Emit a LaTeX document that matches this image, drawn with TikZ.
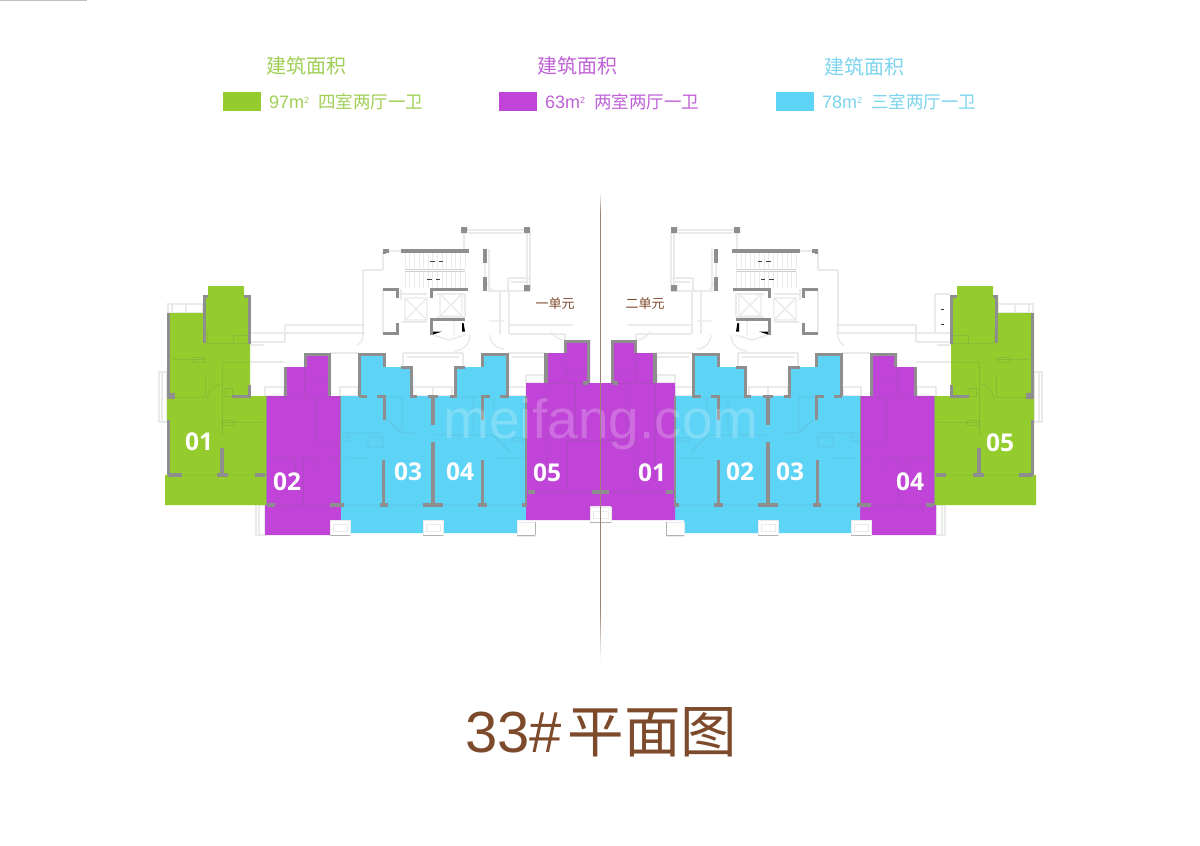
\documentclass[tikz,border=0pt]{standalone}
\usepackage{fontspec}
\setmainfont{Liberation Sans}
\newfontfamily\cjk{Noto Sans CJK SC}
\newfontfamily\lab{Open Sans}
\definecolor{gr}{HTML}{93CC2C}
\definecolor{pu}{HTML}{C044D8}
\definecolor{bl}{HTML}{5DD3F5}
\definecolor{wallc}{HTML}{8E8E8E}
\definecolor{planc}{HTML}{EAEAEA}
\definecolor{brownt}{HTML}{7E4A2C}
\definecolor{linec}{HTML}{9A8376}
\definecolor{grt}{HTML}{A0CF55}
\definecolor{put}{HTML}{BF62D6}
\definecolor{blt}{HTML}{7CD4EE}
\tikzset{
  wallln/.style={draw=wallc,line width=3.2pt},
  wallthin/.style={draw=wallc,line width=1.8pt},
  planln/.style={draw=planc,line width=1.4pt},
  inner/.style={draw=black!60,draw opacity=.16,line width=.8pt},
  balc/.style={fill=white,draw=planc,line width=.9pt},
  legendh/.style={font=\cjk\fontsize{20}{22}\selectfont},
  legendt/.style={anchor=west,font=\fontsize{18}{20}\selectfont},
  unitl/.style={text=white,font=\lab\bfseries\fontsize{24.5}{28}\selectfont},
  unitn/.style={text=brownt,font=\cjk\fontsize{13}{15}\selectfont},
}
\newcommand\halfplan{%
  % light plan lines, core and corridors
  \draw[planln] (464,230)--(527,230) (468,233)--(523,233) (527,230)--(527,288) (530,233)--(530,290) (464,230)--(464,250);
  \draw[planln] (508,278)--(530,278) (508,278)--(508,291) (511,282)--(527,282) (488,291)--(530,291);
  \draw[planln] (363,270)--(383,270) (363,270)--(363,335) (383,251)--(383,270) (485,263)--(485,277) (489,249)--(489,291);
  \draw[planln] (383,289)--(383,333) (401,289)--(401,300) (402,294)--(427,294) (402,322)--(427,322);
  \draw[planln] (465,294)--(465,317) (437,294)--(465,294) (437,317)--(465,317);
  \draw[planln] (405,298) rectangle (427,320) (405,298)--(427,320) (427,298)--(405,320);
  \draw[planln] (440,294) rectangle (462,316) (440,294)--(462,316) (462,294)--(440,316);
  \draw[planln] (500,292)--(500,334) (509,292)--(509,334) (510,334)--(565,334) (510,325)--(573,325) (565,334)--(565,340);
  \draw[planln] (285,325)--(365,325) (285,333)--(365,333) (285,325)--(285,333) (250,333)--(285,333) (250,342)--(285,342) (285,333)--(285,342);
  \draw[planln] (403,353)--(463,353) (403,353)--(403,367) (463,353)--(463,367) (407,357)--(459,357);
  \draw[planln] (250,362)--(285,362) (330,353)--(359,353) (508,353)--(546,353) (512,357)--(546,357) (250,345)--(264,345);
  \draw[planln] (285,367) arc[start angle=180,end angle=120,radius=20];
  \draw[planln] (470,335) arc[start angle=0,end angle=90,radius=16] (454,319)--(454,335);
  \draw[planln] (490,335) arc[start angle=180,end angle=90,radius=14] (489,321)--(504,321);
  \draw[planln] (363,335) arc[start angle=0,end angle=60,radius=12];
  \draw[planln] (485,277) arc[start angle=180,end angle=120,radius=14];
  \draw[planln] (433,335)--(449,340)--(465,335);
  \draw[planln] (565,340) arc[start angle=90,end angle=150,radius=16];
  % stair
  \foreach \sx in {405,409.6,...,466}{\draw[draw=planc,line width=.6pt] (\sx,253)--(\sx,268) (\sx,272)--(\sx,288);}
  \draw[draw=black!20,line width=.7pt] (405,269)--(465,269) (405,271.5)--(465,271.5);
  \draw[draw=black!75,line width=1pt] (430,261)--(435,261) (439,261)--(443,261) (427,279)--(432,279) (436,279)--(440,279);
  \draw[planln] (389,251)--(401,251);
  % walls of the core
  \draw[wallln] (401,251)--(469,251);
  \draw[wallln] (383,251)--(389,251) (384.3,251)--(384.3,254);
  \draw[wallln] (485,249)--(485,263) (485,277)--(485,291);
  \draw[wallln] (383,289.3)--(397.3,289.3)--(397.3,298);
  \draw[wallln] (383,333.3)--(397.3,333.3)--(397.3,323);
  \draw[wallln] (431.3,298)--(431.3,289.3)--(468,289.3);
  \draw[wallln] (431.3,335)--(431.3,319.3)--(465,319.3);
  \fill[wallc] (461,227) rectangle (467,233) (524,227) rectangle (530,233) (524,285) rectangle (530,291);
  \fill[black] (433,331.5)--(442,331.5)--(433,334.5)--cycle (462,323)--(463.6,323)--(465,331.5)--(462,331.5)--cycle;
  % balconies outside the colours
  \draw[planln] (168,304) rectangle (203,313) (172,304)--(172,313) (186,304)--(186,313);
  \draw[planln] (159,372) rectangle (167,422) (162,372)--(162,422);
  \draw[planln] (256,505) rectangle (265,535) (259,505)--(259,535);
  \draw[planln] (265,387) rectangle (284,396) (340,387) rectangle (358,396) (413,387) rectangle (433,396) (433,387) rectangle (452,396) (526,375) rectangle (544,383) (508,387) rectangle (526,396);
  % colour blocks
  \fill[gr] (208,286)--(244,286)--(244,296)--(250,296)--(250,396)--(267,396)--(267,505)--(165,505)--(165,475)--(167,475)--(167,313)--(203,313)--(203,296)--(208,296)--cycle;
  \fill[pu] (267,396)--(285,396)--(285,367)--(304,367)--(304,353)--(330,353)--(330,396)--(341,396)--(341,520)--(330,520)--(330,535)--(265,535)--(265,505)--(267,505)--cycle;
  \fill[bl] (341,396)--(359,396)--(359,353)--(385,353)--(385,367)--(412,367)--(412,396)--(455,396)--(455,367)--(482,367)--(482,353)--(508,353)--(508,396)--(526,396)--(526,520)--(517,520)--(517,533)--(350,533)--(350,520)--(341,520)--cycle;
  \fill[pu] (526,383)--(546,383)--(546,353)--(565,353)--(565,340)--(590,340)--(590,383)--(601,383)--(601,506)--(590,506)--(590,520)--(526,520)--cycle;
  % thin inner lines
  \draw[inner] (173,359)--(205,359) (222,362)--(248,362) (205,375)--(205,397) (170,397)--(205,397) (222,362)--(222,437) (222,422)--(263,422) (207,343)--(248,343) (207,330)--(207,343) (233,335)--(248,335) (233,335)--(233,343) (232,396)--(250,396);
  \draw[inner] (192,357) rectangle (204,362) (222,420) rectangle (234,425) (225,388) rectangle (232,396);
  \draw[inner] (167,475)--(267,475) (207,400) arc[start angle=180,end angle=260,radius=16];
  \draw[inner] (268,397)--(341,397) (304,367)--(304,397) (305,378)--(328,378) (315,397)--(315,442) (320,442)--(338,442) (268,457)--(295,457) (295,457)--(295,477) (303,457)--(303,505) (303,457)--(317,457)--(317,470) (328,457)--(338,457) (267,505)--(341,505) (280,505)--(280,510);
  \draw[inner] (342,433)--(383,433) (402,397)--(402,433) (402,433)--(418,433) (368,437) rectangle (383,447) (347,458)--(368,458) (343,437) rectangle (349,441) (341,505)--(526,505) (433,520)--(433,533) (385,397)--(402,397) (388,420)--(402,433);
  \draw[inner] (435,435)--(482,435) (482,435)--(493,435) (512,438) rectangle (523,441) (498,458)--(525,458) (493,435)--(510,452) (494,397)--(494,420) (473,397)--(473,430) (455,397)--(482,397);
  \draw[inner] (526,492)--(601,492) (546,383)--(546,480) (565,353)--(565,383) (546,383)--(590,383) (575,383)--(575,440) (565,440)--(601,440) (566,370)--(588,370) (567,440)--(567,492);
  % walls on the colours
  \draw[wallln] (168.4,313)--(168.4,395) (168.4,420)--(168.4,475);
  \fill[wallc] (167,393) rectangle (175,399);
  \draw[wallln] (204.3,343)--(204.3,296.3)--(208,296.3) (244,296.3)--(249.3,296.3)--(249.3,344) (249.3,385)--(249.3,396.7)--(232,396.7);
  \draw[wallln] (222,448)--(222,475);
  \draw[wallln] (168,475)--(182,475) (217,475)--(228,475) (255,475)--(265,475);
  \draw[wallthin] (266.5,396)--(266.5,505) (340.5,396)--(340.5,505) (526,396)--(526,505);
  \draw[wallln] (267,505)--(275,505) (330,505)--(344,505);
  \draw[wallln] (285.3,396)--(285.3,367) (305.3,367)--(305.3,354.3)--(329.3,354.3)--(329.3,396);
  \draw[wallln] (359.3,396)--(359.3,354.3)--(384.7,354.3)--(384.7,367);
  \draw[wallln] (401,367.3)--(411.7,367.3)--(411.7,396.5)--(417,396.5);
  \draw[wallln] (359,396.5)--(367,396.5) (377,396.5)--(384.7,396.5)--(384.7,420);
  \draw[wallln] (383.7,460)--(383.7,505) (380,505)--(388,505);
  \draw[wallln] (428,396.5)--(438,396.5) (433,396)--(433,425) (433,442)--(433,505) (423,505)--(443,505);
  \draw[wallln] (465,367.3)--(455.3,367.3)--(455.3,396.5)--(450,396.5);
  \draw[wallln] (482.3,367)--(482.3,354.3)--(507.7,354.3)--(507.7,396.5)--(500,396.5);
  \draw[wallln] (490,396.5)--(482.5,396.5)--(482.5,420) (482.5,460)--(482.5,505) (478,505)--(487,505) (522,505)--(527,505);
  \draw[wallln] (546,383)--(546,353.3) (565.3,353)--(565.3,341.3)--(588.7,341.3)--(588.7,383) (583,383)--(588,383);
  \draw[wallln] (528,492)--(535,492) (592,492)--(601,492);
  % balconies over the colours
  \draw[balc] (330,520) rectangle (350,535);
  \draw[balc] (423,520) rectangle (443,535);
  \draw[balc] (517,522) rectangle (535,536);
  \draw[balc] (590,507) rectangle (601,522);
  \foreach \bx in {330,423}{
    \draw[planc,line width=.8pt] (\bx+3,524) rectangle (\bx+17,531);
    \draw[black!30,line width=1pt] (\bx,535)--(\bx+20,535);}
  \draw[black!30,line width=1pt] (517,535)--(535,535) (535,522)--(535,535);
  \draw[black!30,line width=1pt] (590,522)--(601,522);
  \draw[planc,line width=.8pt] (593,511) rectangle (601,518);
}
\begin{document}
\begin{tikzpicture}[x=1pt,y=-1pt]
\useasboundingbox (0,0) rectangle (1200,846);
\fill[white] (0,0) rectangle (1200,846);
\fill[black!25] (0,0) rectangle (87,1);
% legend
\node[legendh,text=grt] (h1) at (306,66) {建筑面积};
\node[legendh,text=put] (h2) at (577,66) {建筑面积};
\node[legendh,text=blt] (h3) at (864,67) {建筑面积};
\fill[gr] (223,92) rectangle (261,111);
\fill[pu] (499,92) rectangle (537,111);
\fill[bl] (776,92) rectangle (814,111);
\node[legendt,text=grt,inner sep=0pt] (t1) at (269,102) {97m\raisebox{5pt}{\fontsize{9}{9}\selectfont 2}\hspace{9pt}{\cjk\fontsize{17.5}{20}\selectfont 四室两厅一卫}};
\node[legendt,text=put,inner sep=0pt] (t2) at (545,102) {63m\raisebox{5pt}{\fontsize{9}{9}\selectfont 2}\hspace{9pt}{\cjk\fontsize{17.5}{20}\selectfont 两室两厅一卫}};
\node[legendt,text=blt,inner sep=0pt] (t3) at (822,102) {78m\raisebox{5pt}{\fontsize{9}{9}\selectfont 2}\hspace{9pt}{\cjk\fontsize{17.5}{20}\selectfont 三室两厅一卫}};
% the two mirrored halves
\begin{scope}\halfplan\end{scope}
\begin{scope}[xshift=1201pt,xscale=-1]\halfplan\end{scope}
% right wing extra
\draw[planln] (935,294)--(950,294) (935,294)--(935,333) (935,333)--(950,333);
\draw[black!80,line width=1pt] (941,309)--(944,309) (941,324)--(944,324);
% watermark
\node[anchor=base,text=white,opacity=.22,inner sep=0pt,font=\fontsize{55}{60}\selectfont] (wm) at (601,438) {meifang.com};
% centre line, fading at both ends
\fill[linec] (599.7,213) rectangle (601.3,610);
\foreach \k in {0,...,9}{
  \fill[linec,opacity=\k*0.1+0.05] (599.7,193+2*\k) rectangle (601.3,195+2*\k);
  \fill[linec,opacity=\k*0.1+0.05] (599.7,660-5*\k) rectangle (601.3,655-5*\k);
}
% labels
\node[unitl] (a1) at (199,442) {01};
\node[unitl] (a2) at (287,482) {02};
\node[unitl] (a3) at (408,472) {03};
\node[unitl] (a4) at (460,472) {04};
\node[unitl] (a5) at (547,473) {05};
\node[unitl] (b1) at (652,473) {01};
\node[unitl] (b2) at (740,472) {02};
\node[unitl] (b3) at (790,472) {03};
\node[unitl] (b4) at (910,482) {04};
\node[unitl] (b5) at (1000,443) {05};
\node[unitn] (u1) at (555,304) {一单元};
\node[unitn] (u2) at (645,304) {二单元};
% title
\node[text=brownt,inner sep=0pt,anchor=base west,font=\fontsize{58}{60}\selectfont] (title) at (465,752) {33\#\hspace{6pt}{\cjk\fontsize{56.5}{60}\selectfont 平面图}};
\end{tikzpicture}
\end{document}
